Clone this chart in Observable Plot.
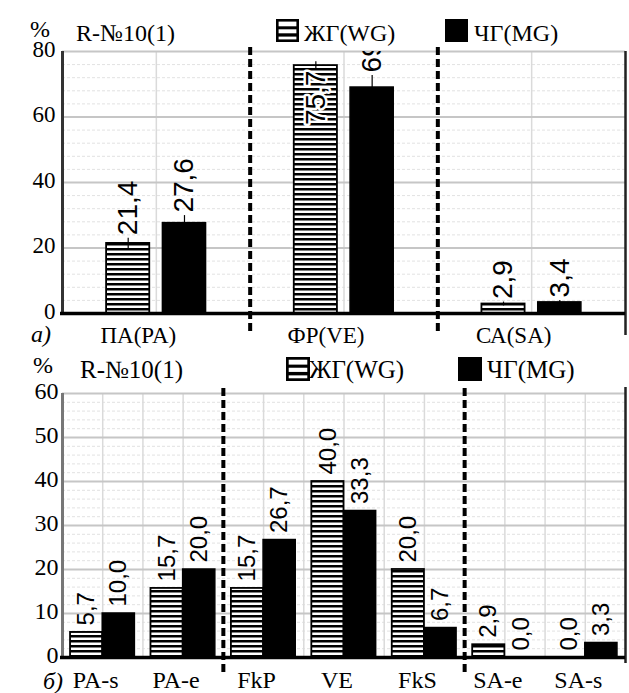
<!DOCTYPE html>
<html><head><meta charset="utf-8">
<script src="https://cdn.jsdelivr.net/npm/d3@7"></script>
<script src="https://cdn.jsdelivr.net/npm/@observablehq/plot@0.6"></script>
<style>
body{margin:0;background:#fff;}
#wrap{position:relative;width:629px;height:693px;overflow:hidden;background:#fff;font-family:"Liberation Serif","Times New Roman",serif;color:#000;}
.abs{position:absolute;white-space:nowrap;line-height:1;}
.abs svg{display:block;}
#wrap > svg{position:absolute;left:0;}
#wrap > svg g[aria-label$="tick label"] text{font-family:"Liberation Serif","Times New Roman",serif;}
</style></head><body><div id="wrap"></div>
<script>
// ---------- data ----------
const seriesNames = ["ЖГ(WG)", "ЧГ(MG)"];
const sampleLabel = "R-№10(1)";
const unitLabel = "%";
const panelLetters = ["а)", "б)"];

// panel а
const catsA = ["ПА(PA)", "ФР(VE)", "СА(SA)"];
const wgA = [21.4, 75.7, 2.9];
const mgA = [27.6, 69.0, 3.4];
const errWgA = [1.6, 1.2, 0.6];
const errMgA = [2.3, 3.7, 0.6];
const yTicksA = [0, 20, 40, 60, 80];
const breaksA = [1, 2];

// panel б
const catsB = ["PA-s", "PA-e", "FkP", "VE", "FkS", "SA-e", "SA-s"];
const wgB = [5.7, 15.7, 15.7, 40.0, 20.0, 2.9, 0.0];
const mgB = [10.0, 20.0, 26.7, 33.3, 6.7, 0.0, 3.3];
const yTicksB = [0, 10, 20, 30, 40, 50, 60];
const breaksB = [2, 5];

// ---------- helpers ----------
const SERIF = "'Liberation Serif', 'Times New Roman', serif";
const SANS = "'Liberation Sans', Arial, sans-serif";
const fmt = v => d3.format(".1f")(v).replace(".", ",");
const wrap = document.getElementById("wrap");

function addText(txt, left, top, size, extra = "") {
  const d = document.createElement("div");
  d.className = "abs";
  d.style.cssText = `left:${left}px;top:${top}px;font-size:${size}px;${extra}`;
  d.textContent = txt;
  wrap.appendChild(d);
}
function addSwatch(kind, left, top, size) {
  const d = document.createElement("div");
  d.className = "abs";
  d.style.cssText = `left:${left}px;top:${top}px;`;
  if (kind === 0) {
    d.innerHTML = `<svg width="${size}" height="${size}" viewBox="0 0 23 23">
      <rect x="1.3" y="1.3" width="20.4" height="20.4" fill="#fff" stroke="#000" stroke-width="2.6"/>
      <rect x="0" y="7.3" width="23" height="3" fill="#000"/>
      <rect x="0" y="14.3" width="23" height="3.3" fill="#000"/></svg>`;
  } else {
    d.innerHTML = `<svg width="${size}" height="${size}"><rect width="${size}" height="${size}" fill="#000"/></svg>`;
  }
  wrap.appendChild(d);
}

function panel(o) {
  const n = o.cats.length;
  const rows = [];
  o.cats.forEach((c, i) => {
    const ctr = i + 0.5;
    rows.push({i, s: 0, v: o.wg[i], e: o.errWg ? o.errWg[i] : 0,
      x1: ctr - o.gap - o.barW, x2: ctr - o.gap, xc: ctr - o.gap - o.barW / 2});
    rows.push({i, s: 1, v: o.mg[i], e: o.errMg ? o.errMg[i] : 0,
      x1: ctr + o.gap, x2: ctr + o.gap + o.barW, xc: ctr + o.gap + o.barW / 2});
  });
  const centers = d3.range(n).map(i => i + 0.5);
  const bounds = d3.range(1, n).filter(b => !o.breaks.includes(b));
  const yMax = o.yTicks[o.yTicks.length - 1];
  const minor = d3.range(0, yMax + 0.001, o.minorStep).filter(t => !o.yTicks.includes(t));
  const pid = o.id;
  const inside = d => d.s === 0 && d.v > 0.92 * yMax;

  const marks = [
    () => {
      const defs = d3.create("svg:defs");
      const p = defs.append("pattern").attr("id", pid).attr("patternUnits", "userSpaceOnUse")
        .attr("width", 10).attr("height", 5);
      p.append("rect").attr("width", 10).attr("height", 5).attr("fill", "#fff");
      p.append("rect").attr("width", 10).attr("height", 2.5).attr("fill", "#000");
      return defs.node();
    },
    Plot.ruleY(minor, {stroke: "#e2e2e2", strokeWidth: 1, strokeDasharray: "3,2"}),
    Plot.ruleX(centers, {stroke: "#dadada", strokeWidth: 1.5}),
    o.boundaryGrid ? Plot.ruleX(bounds, {stroke: "#dadada", strokeWidth: 1.5}) : null,
    Plot.ruleY(o.yTicks.filter(t => t > 0), {stroke: "#c6c6c6", strokeWidth: 2}),
    Plot.rectY(rows.filter(d => d.s === 0), {x1: "x1", x2: "x2", y1: 0, y2: "v",
      fill: `url(#${pid})`, stroke: "#000", strokeWidth: 1.8}),
    Plot.rectY(rows.filter(d => d.s === 1), {x1: "x1", x2: "x2", y1: 0, y2: "v",
      fill: "#000", stroke: "#000", strokeWidth: 1.5}),
    o.errWg ? Plot.ruleX(rows.filter(d => d.e > 0), {x: "xc", y1: d => d.v - d.e, y2: d => d.v + d.e,
      stroke: "#000", strokeWidth: 1.2}) : null,
    Plot.ruleX(o.breaks, {stroke: "#000", strokeWidth: 4, strokeDasharray: "8,4",
      insetTop: -o.sepTop, insetBottom: -o.sepBottom}),
    Plot.ruleX([n], {stroke: "#222", strokeWidth: 2.5, insetTop: -o.rTop, insetBottom: -o.rBottom}),
    Plot.ruleX([0], {stroke: o.leftColor, strokeWidth: 3}),
    Plot.ruleY([0], {stroke: "#000", strokeWidth: 3.5, insetLeft: -2}),
    Plot.text(rows.filter(d => !inside(d)), {x: "xc", y: d => d.v + d.e, text: d => fmt(d.v),
      rotate: -90, textAnchor: "start", lineAnchor: "middle", dy: -o.labelGap,
      fontSize: o.labelSize, fontFamily: SANS, fill: "#000", clip: true}),
    Plot.text(rows.filter(d => inside(d)), {x: "xc", y: "v", text: d => fmt(d.v),
      rotate: -90, textAnchor: "end", lineAnchor: "middle", dy: 5,
      fontSize: o.labelSize, fontFamily: SANS, fill: "#000",
      stroke: "#fff", strokeWidth: 5, strokeLinejoin: "round", paintOrder: "stroke"}),
    Plot.axisY(o.yTicks, {tickSize: 0, tickPadding: o.yPad, fontSize: o.tickSize, dy: -2,
      label: null, fontFamily: SERIF, fill: "#000"}),
    Plot.axisX(centers, {tickSize: 0, tickPadding: o.xPad, dx: o.xDx, label: null,
      tickFormat: d => o.cats[Math.floor(d)], fontSize: o.tickSize,
      fontFamily: SERIF, fill: "#000"})
  ].filter(Boolean);

  const svg = Plot.plot({
    width: 629, height: o.height,
    marginTop: o.mt, marginBottom: o.mb, marginLeft: 62, marginRight: 4,
    x: {type: "linear", domain: [0, n], label: null},
    y: {domain: [0, yMax], label: null},
    style: {background: "transparent", color: "#000", fontFamily: SERIF, overflow: "visible"},
    marks
  });
  d3.select(svg).selectAll('g[aria-label$="tick label"]')
    .attr("font-family", SERIF).attr("font-size", o.tickSize);
  svg.style.top = o.top + "px";
  wrap.appendChild(svg);
}

// ---------- panel а ----------
panel({id: "hatchA", cats: catsA, wg: wgA, mg: mgA, errWg: errWgA, errMg: errMgA,
  yTicks: yTicksA, minorStep: 4, breaks: breaksA, top: 38, height: 312, mt: 13, mb: 37,
  barW: 0.23, gap: 0.035, labelSize: 28, labelGap: 3, tickSize: 23, xPad: 13, yPad: 7, xDx: -18,
  boundaryGrid: false, sepTop: 4, sepBottom: 20, rTop: 0, rBottom: 22, leftColor: "#333"});

// ---------- panel б ----------
panel({id: "hatchB", cats: catsB, wg: wgB, mg: mgB, errWg: null, errMg: null,
  yTicks: yTicksB, minorStep: 2, breaks: breaksB, top: 380, height: 313, mt: 13, mb: 36,
  barW: 0.4, gap: 0, labelSize: 24, labelGap: 7, tickSize: 24, xPad: 13, yPad: 4, xDx: -7,
  boundaryGrid: true, sepTop: 5, sepBottom: 18, rTop: 6, rBottom: 6, leftColor: "#777"});

// ---------- legends ----------
addText(unitLabel, 30, 17, 24);
addText(sampleLabel, 76, 21, 24);
addSwatch(0, 276, 19, 23);
addText(seriesNames[0], 304, 21, 24);
addSwatch(1, 445, 19, 23);
addText(seriesNames[1], 474, 21, 24);

addText(unitLabel, 33, 353, 24);
addText(sampleLabel, 80, 357, 25);
addSwatch(0, 286, 357, 24);
addText(seriesNames[0], 309, 357, 25);
addSwatch(1, 458, 357, 24);
addText(seriesNames[1], 487, 357, 25);

addText(panelLetters[0], 31, 322, 24, "font-style:italic;");
addText(panelLetters[1], 43, 669, 24, "font-style:italic;");
</script></body></html>
